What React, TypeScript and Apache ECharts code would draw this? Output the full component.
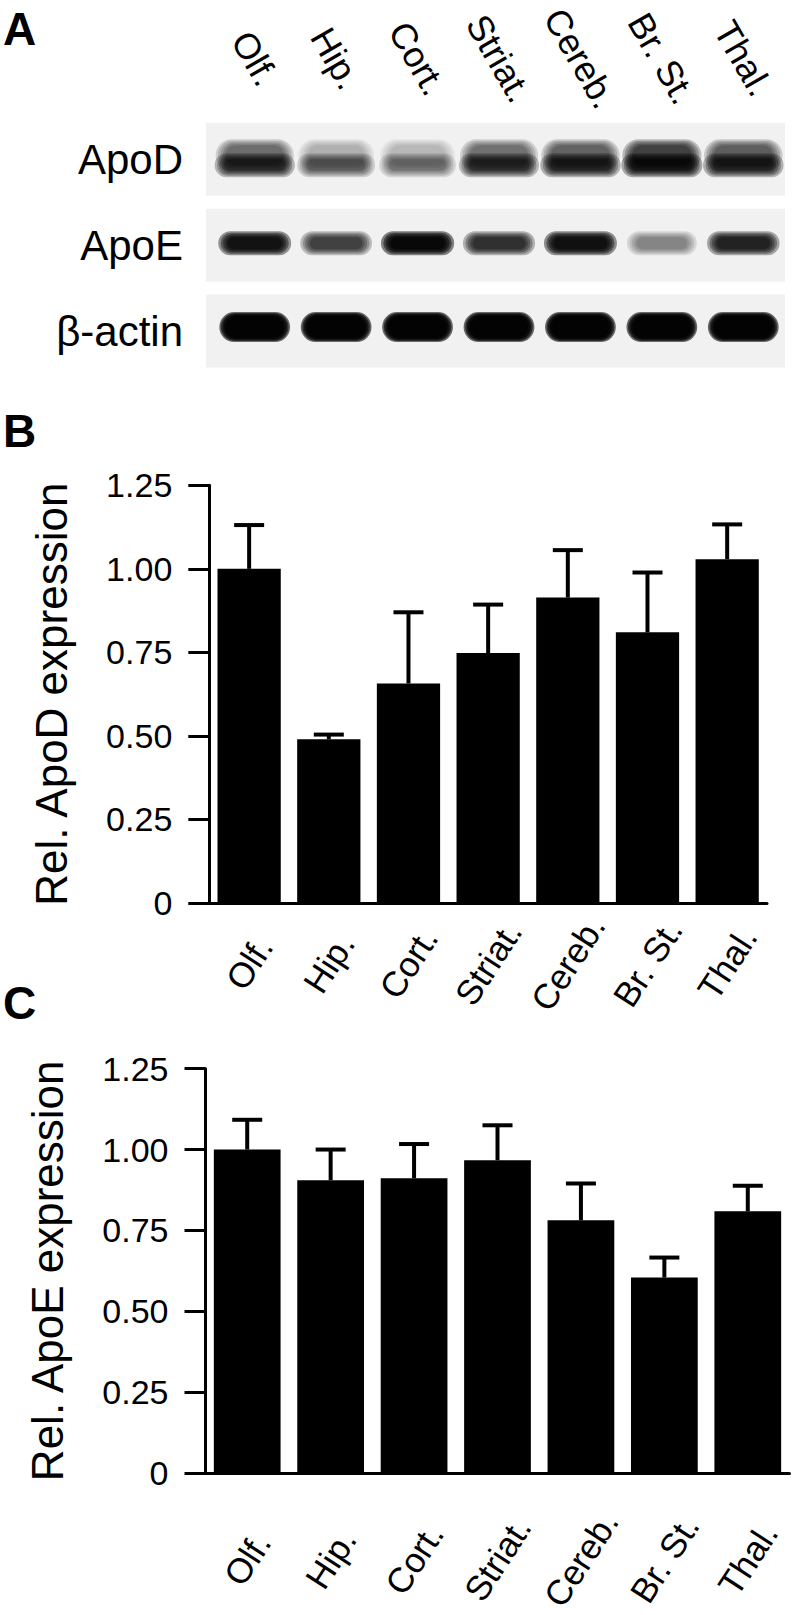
import React, { useEffect, useRef } from "react";
import * as echarts from "echarts";

const categories = ["Olf.", "Hip.", "Cort.", "Striat.", "Cereb.", "Br. St.", "Thal."];
const blotRows = ["ApoD", "ApoE", "β-actin"];

// relative band intensities read from the blot (0 = none, 1 = saturated)
const apodUpperBand = [0.72, 0.34, 0.3, 0.7, 0.78, 0.97, 0.8];
const apodLowerBand = [0.9, 0.66, 0.55, 0.88, 0.92, 0.99, 0.93];
const apoeBand = [0.95, 0.75, 0.99, 0.82, 0.96, 0.45, 0.88];
const actinBand = [0.99, 0.99, 0.99, 0.99, 0.99, 0.99, 0.99];

const apodMean = [1.0, 0.49, 0.657, 0.748, 0.914, 0.81, 1.029];
const apodSem = [0.131, 0.014, 0.213, 0.145, 0.142, 0.179, 0.104];
const apoeMean = [1.0, 0.905, 0.911, 0.967, 0.781, 0.604, 0.809];
const apoeSem = [0.092, 0.095, 0.106, 0.108, 0.114, 0.062, 0.079];

const yTicks = { min: 0, max: 1.25, interval: 0.25 };

const FONT = "'Liberation Sans', Arial, Helvetica, sans-serif";

function errorRender(params: any, api: any) {
  const i = api.value(0);
  const m = api.value(1);
  const e = api.value(2);
  const base = api.coord([i, m]);
  const top = api.coord([i, m + e]);
  const half = 15;
  return {
    type: "group",
    children: [
      { type: "line", shape: { x1: base[0], y1: base[1], x2: top[0], y2: top[1] }, style: { stroke: "#000", lineWidth: 4 } },
      { type: "line", shape: { x1: top[0] - half, y1: top[1], x2: top[0] + half, y2: top[1] }, style: { stroke: "#000", lineWidth: 4 } },
    ],
  };
}

function stripRender(params: any, api: any) {
  const row = api.value(1);
  const c = api.coord([0, row]);
  const cs = params.coordSys;
  return {
    type: "rect",
    shape: { x: cs.x - 8, y: c[1] - 36.5, width: cs.width + 9, height: 73 },
    style: { fill: "#f1f1f1" },
  };
}

// soft-edged band: stacked translucent pills
function softBand(x: number, y: number, w: number, h: number, a: number, spread: number) {
  const n = 5;
  const alpha = 1 - Math.pow(1 - Math.min(a, 0.985), 1 / n);
  const out: any[] = [];
  for (let k = 0; k < n; k++) {
    const grow = (n - 1 - k) * spread;
    const ww = w + grow * 1.6;
    const hh = h + grow;
    out.push({
      type: "rect",
      shape: { x: x - ww / 2, y: y - hh / 2, width: ww, height: hh, r: hh / 2 },
      style: { fill: `rgba(0,0,0,${alpha})` },
    });
  }
  return out;
}

function bandRender(params: any, api: any) {
  const lane = api.value(0);
  const row = api.value(1);
  const a1 = api.value(2);
  const a2 = api.value(3);
  const c = api.coord([lane, row]);
  const x = c[0];
  const y = c[1];
  let children: any[] = [];
  if (row === 0) {
    const w = 50 + a2 * 10;
    children = [...softBand(x, y - 4, w, 20, a1 * 0.75, 3), ...softBand(x, y + 6, w + 2, 12, a2 * 0.85, 3)];
  } else if (row === 1) {
    children = softBand(x, y - 2, 48 + a1 * 6, 12, a1 * 0.97, 3);
  } else {
    children = softBand(x, y - 4, 58, 22, a1, 2);
  }
  return { type: "group", children };
}

const fmt = (v: number) => (v === 0 ? "0" : v.toFixed(2));

function valueAxis(gridIndex: number, name: string) {
  return {
    type: "value",
    gridIndex,
    ...yTicks,
    name,
    nameLocation: "middle",
    nameRotate: 90,
    nameGap: 136,
    nameTextStyle: { fontSize: 44, color: "#000", fontFamily: FONT },
    axisLine: { show: true, lineStyle: { color: "#000", width: 3 } },
    axisTick: { show: true, length: 21, lineStyle: { color: "#000", width: 3 } },
    axisLabel: { fontSize: 34, color: "#000", margin: 37, fontFamily: FONT, formatter: fmt },
    splitLine: { show: false },
  };
}

function catAxis(gridIndex: number, margin: number) {
  return {
    type: "category",
    gridIndex,
    data: categories,
    axisLine: { show: true, lineStyle: { color: "#000", width: 3 } },
    axisTick: { show: false },
    axisLabel: {
      rotate: 57,
      align: "center",
      verticalAlign: "middle",
      margin,
      fontSize: 35,
      color: "#000",
      fontFamily: FONT,
      interval: 0,
    },
  };
}

export default function App() {
  const ref = useRef<HTMLDivElement>(null);
  useEffect(() => {
    document.body.style.margin = "0";
    const chart = echarts.init(ref.current!, null, { renderer: "svg" });
    const bandData: any[] = [];
    categories.forEach((_, i) => {
      bandData.push([i, 0, apodUpperBand[i], apodLowerBand[i]]);
      bandData.push([i, 1, apoeBand[i], apoeBand[i]]);
      bandData.push([i, 2, actinBand[i], actinBand[i]]);
    });
    const option: any = {
      animation: false,
      backgroundColor: "#fff",
      textStyle: { fontFamily: FONT },
      grid: [
        { left: 214, top: 113, width: 570, height: 261 },
        { left: 209.3, top: 485.3, width: 557.7, height: 417.7 },
        { left: 205.5, top: 1068.7, width: 584, height: 419.5 },
      ],
      xAxis: [
        {
          type: "category",
          gridIndex: 0,
          data: categories,
          position: "top",
          axisLine: { show: false },
          axisTick: { show: false },
          axisLabel: {
            rotate: 60,
            align: "center",
            verticalAlign: "middle",
            margin: 58,
            fontSize: 36,
            color: "#000",
            fontFamily: FONT,
            interval: 0,
          },
        },
        catAxis(1, 60),
        catAxis(2, 86),
      ],
      yAxis: [
        {
          type: "category",
          gridIndex: 0,
          data: blotRows,
          inverse: true,
          axisLine: { show: false },
          axisTick: { show: false },
          axisLabel: { fontSize: 42, color: "#000", margin: 31, fontFamily: FONT },
        },
        valueAxis(1, "Rel. ApoD expression"),
        valueAxis(2, "Rel. ApoE expression"),
      ],
      graphic: [
        { type: "text", left: 3, top: 6, style: { text: "A", fontSize: 46, fontWeight: "bold", fill: "#000", fontFamily: FONT } },
        { type: "text", left: 3, top: 408, style: { text: "B", fontSize: 46, fontWeight: "bold", fill: "#000", fontFamily: FONT } },
        { type: "text", left: 3, top: 980, style: { text: "C", fontSize: 46, fontWeight: "bold", fill: "#000", fontFamily: FONT } },
      ],
      series: [
        {
          type: "custom",
          xAxisIndex: 0,
          yAxisIndex: 0,
          silent: true,
          renderItem: stripRender,
          data: blotRows.map((_, r) => [0, r]),
          z: 1,
        },
        {
          type: "custom",
          xAxisIndex: 0,
          yAxisIndex: 0,
          silent: true,
          renderItem: bandRender,
          data: bandData,
          z: 2,
        },
        {
          type: "bar",
          xAxisIndex: 1,
          yAxisIndex: 1,
          data: apodMean,
          barCategoryGap: "20.6%",
          itemStyle: { color: "#000" },
          silent: true,
        },
        {
          type: "custom",
          xAxisIndex: 1,
          yAxisIndex: 1,
          renderItem: errorRender,
          data: apodMean.map((m, i) => [i, m, apodSem[i]]),
          z: 3,
          silent: true,
        },
        {
          type: "bar",
          xAxisIndex: 2,
          yAxisIndex: 2,
          data: apoeMean,
          barCategoryGap: "20%",
          itemStyle: { color: "#000" },
          silent: true,
        },
        {
          type: "custom",
          xAxisIndex: 2,
          yAxisIndex: 2,
          renderItem: errorRender,
          data: apoeMean.map((m, i) => [i, m, apoeSem[i]]),
          z: 3,
          silent: true,
        },
      ],
    };
    chart.setOption(option);
    return () => chart.dispose();
  }, []);
  return <div ref={ref} style={{ position: "absolute", left: 0, top: 0, width: 792, height: 1615 }} />;
}
